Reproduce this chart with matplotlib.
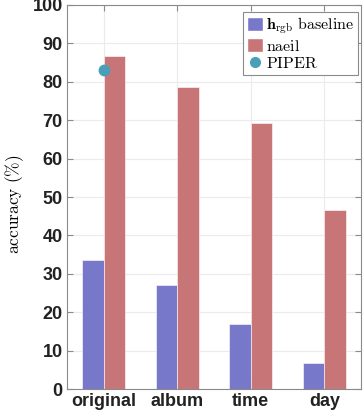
import numpy as np
import matplotlib
matplotlib.use('Agg')
from matplotlib import pyplot as plt
from matplotlib.lines import Line2D
from matplotlib.patches import Patch

# data
categories = ['original', 'album', 'time', 'day']
baseline = [33.7, 27.2, 16.9, 6.7]
naeil = [86.8, 78.7, 69.3, 46.5]
piper_x = ['original']
piper = [83.0]

blue = '#7878cb'
red = '#c87577'
teal = '#4a9fb8'

plt.rcParams['mathtext.fontset'] = 'cm'

fig = plt.figure(figsize=(3.64, 4.15), dpi=100)
ax = fig.add_axes([67 / 364, 26 / 415, 294 / 364, 384 / 415])

x = np.arange(1, len(categories) + 1)
w = 0.29
ax.bar(x - w / 2, baseline, w, color=blue, edgecolor='white', linewidth=0.4, zorder=2)
ax.bar(x + w / 2, naeil, w, color=red, edgecolor='white', linewidth=0.4, zorder=2)
px = [x[categories.index(c)] for c in piper_x]
ax.plot(px, piper, 'o', color=teal, markersize=7.5, zorder=3)

ax.set_xlim(0.5, 4.5)
ax.set_ylim(0, 100)
ax.set_yticks(np.arange(0, 101, 10))
ax.set_xticks(x)
ax.set_xticklabels(categories)
ax.grid(True, color='#ebebeb', linewidth=0.8, zorder=0)
ax.set_axisbelow(True)
for s in ax.spines.values():
    s.set_color('#8a8a8a')
    s.set_linewidth(0.8)
ax.tick_params(direction='in', top=True, right=True, color='#8a8a8a', length=4, pad=3)
for lab in ax.get_xticklabels() + ax.get_yticklabels():
    lab.set_family('Liberation Sans')
    lab.set_fontweight('bold')
    lab.set_fontsize(13)
    lab.set_color('#222222')
ax.set_ylabel(r'$\mathrm{accuracy\ (\%)}$', fontsize=12.5)
ax.yaxis.set_label_coords(-0.14, 0.48)

handles = [Patch(facecolor=blue, edgecolor='white'),
           Patch(facecolor=red, edgecolor='white'),
           Line2D([], [], marker='o', linestyle='', color=teal, markersize=7)]
labels = [r'$\mathbf{h}_{\mathrm{rgb}}\ \mathrm{baseline}$', r'$\mathrm{naeil}$', r'$\mathrm{PIPER}$']
leg = ax.legend(handles, labels, loc='upper right', fontsize=11.5, fancybox=False,
                framealpha=1, edgecolor='#8a8a8a', handlelength=1.0, handleheight=1.0,
                handletextpad=0.2, borderpad=0.25, labelspacing=0.12,
                bbox_to_anchor=(0.99, 0.983), borderaxespad=0.0)
leg.get_frame().set_linewidth(0.8)

fig.savefig('out.png', dpi=100)
